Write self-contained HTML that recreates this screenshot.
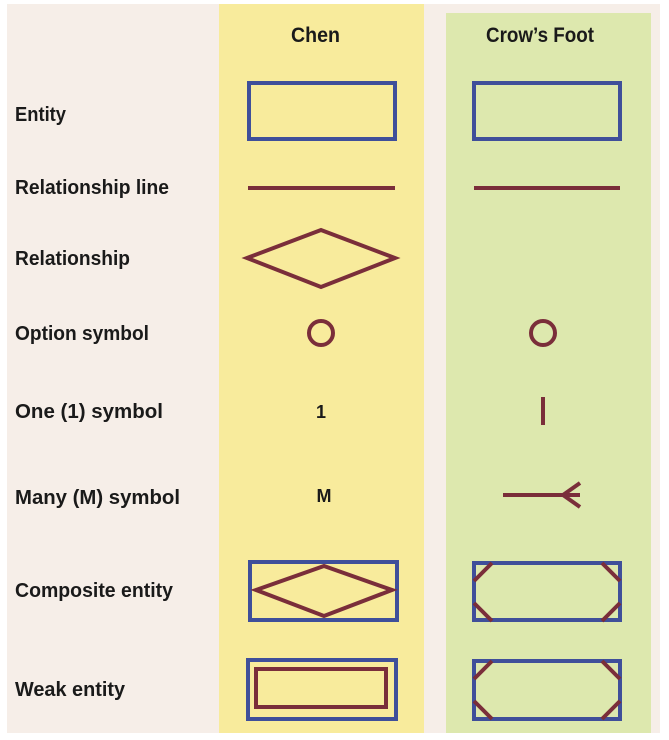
<!DOCTYPE html>
<html><head><meta charset="utf-8"><style>
body{margin:0;background:#fff;}
svg{display:block}
text{font-family:"Liberation Sans Narrow","Liberation Sans",sans-serif;font-weight:bold;fill:#1a1a1a}
</style></head><body>
<svg width="669" height="740" viewBox="0 0 669 740">
<rect x="7" y="4" width="653" height="729" fill="#f6eee8"/>
<rect x="219" y="4" width="205" height="729" fill="#f8eb9c"/>
<rect x="446" y="13" width="205" height="720" fill="#dde8ae"/>
<text x="291" y="42" font-size="21" textLength="49" lengthAdjust="spacingAndGlyphs">Chen</text>
<text x="486" y="42" font-size="21" textLength="108" lengthAdjust="spacingAndGlyphs">Crow’s Foot</text>
<g font-size="20">
<text x="15" y="121" textLength="51" lengthAdjust="spacingAndGlyphs">Entity</text>
<text x="15" y="194" textLength="154" lengthAdjust="spacingAndGlyphs">Relationship line</text>
<text x="15" y="265" textLength="115" lengthAdjust="spacingAndGlyphs">Relationship</text>
<text x="15" y="340" textLength="134" lengthAdjust="spacingAndGlyphs">Option symbol</text>
<text x="15" y="418" textLength="148" lengthAdjust="spacingAndGlyphs">One (1) symbol</text>
<text x="15" y="504" textLength="165" lengthAdjust="spacingAndGlyphs">Many (M) symbol</text>
<text x="15" y="597" textLength="158" lengthAdjust="spacingAndGlyphs">Composite entity</text>
<text x="15" y="696" textLength="110" lengthAdjust="spacingAndGlyphs">Weak entity</text>
</g>
<g fill="none" stroke-width="4">
<rect x="249" y="83" width="146" height="56" stroke="#3f4f9a"/>
<rect x="474" y="83" width="146" height="56" stroke="#3f4f9a"/>
<line x1="248" y1="188" x2="395" y2="188" stroke="#7a2e3a"/>
<line x1="474" y1="188" x2="620" y2="188" stroke="#7a2e3a"/>
<polygon points="247,258 321,230 395,258 321,287" stroke="#7a2e3a"/>
<circle cx="321" cy="333" r="12" stroke="#7a2e3a"/>
<circle cx="543" cy="333" r="12" stroke="#7a2e3a"/>
<line x1="543" y1="397" x2="543" y2="425" stroke="#7a2e3a"/>
<path d="M503 495H580M563 495L580 483M563 495L580 507" stroke="#7a2e3a"/>
<rect x="250" y="562" width="147" height="58" stroke="#3f4f9a"/>
<polygon points="256,590 324,566 392,590 324,616" stroke="#7a2e3a"/>
<rect x="474" y="563" width="146" height="57" stroke="#3f4f9a"/>
<path d="M492 563L474 581M474 603L492 621M602 563L620 581M620 603L602 621" stroke="#7a2e3a"/>
<rect x="248" y="660" width="148" height="59" stroke="#3f4f9a"/>
<rect x="256" y="669" width="130" height="38" stroke="#7a2e3a"/>
<rect x="474" y="661" width="146" height="58" stroke="#3f4f9a"/>
<path d="M492 661L474 679M474 701L492 719M602 661L620 679M620 701L602 719" stroke="#7a2e3a"/>
</g>
<text x="321" y="418" font-size="18" text-anchor="middle">1</text>
<text x="324" y="502" font-size="18" text-anchor="middle">M</text>
</svg>
</body></html>
